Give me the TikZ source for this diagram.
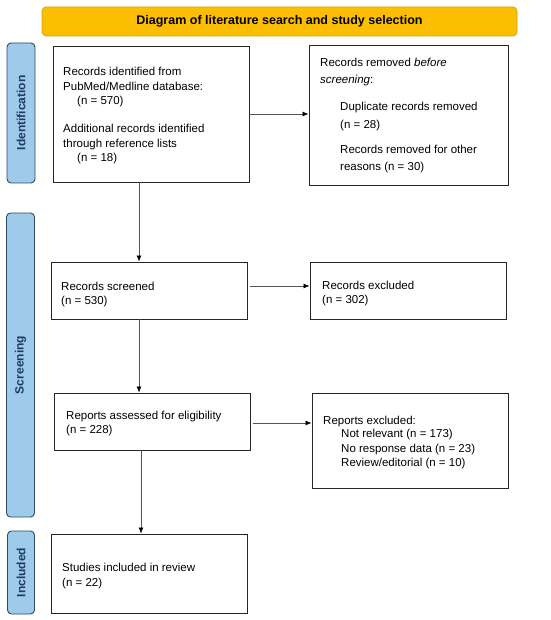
\documentclass[tikz,border=0pt]{standalone}
\usepackage{fontspec}
\setmainfont{Liberation Sans}
\usetikzlibrary{arrows.meta}
\definecolor{titlefill}{HTML}{FBBE00}
\definecolor{titledraw}{HTML}{D9A200}
\definecolor{sidefill}{HTML}{9FCBEB}
\definecolor{sidedraw}{HTML}{2E4A68}
\definecolor{sidetext}{HTML}{1E3A66}
\definecolor{linegray}{HTML}{555555}
\begin{document}
\begin{tikzpicture}[x=1pt,y=-1pt,
  box/.style={draw=black!85, line width=0.9pt, fill=white, inner sep=0pt},
  side/.style={draw=sidedraw, line width=0.9pt, fill=sidefill, rounded corners=4pt, inner sep=0pt},
  sidelabel/.style={rotate=90, font=\fontsize{12}{14}\selectfont\bfseries, text=sidetext},
  txt/.style={anchor=base west, inner sep=0pt, font=\fontsize{11.5}{14}\selectfont},
  arr/.style={draw=linegray, line width=0.7pt, -{Latex[length=6pt,width=5pt,color=black]}}
]
\useasboundingbox (0,0) rectangle (550,620);
\fill[white] (0,0) rectangle (550,620);

% title
\node[draw=titledraw, fill=titlefill, line width=0.7pt, rounded corners=4pt,
  minimum width=475pt, minimum height=29pt, inner sep=0pt,
  font=\fontsize{12.5}{14}\selectfont\bfseries] (title) at (279.5,21.5)
  {Diagram of literature search and study selection};

% side labels
\node[side, minimum width=28pt, minimum height=140pt] (sid) at (21,113) {};
\node[sidelabel] (sidt) at (sid.center) {Identification};
\node[side, minimum width=28pt, minimum height=304pt] (sscr) at (20.5,365) {};
\node[sidelabel] (sscrt) at (sscr.center) {Screening};
\node[side, minimum width=27pt, minimum height=83pt] (sinc) at (21,572.5) {};
\node[sidelabel] (sinct) at (sinc.center) {Included};

% boxes
\node[box, minimum width=196pt, minimum height=136pt] (b1) at (151,114) {};
\node[box, minimum width=199pt, minimum height=140pt] (b2) at (408.5,115) {};
\node[box, minimum width=196pt, minimum height=57pt] (b3) at (149,290.5) {};
\node[box, minimum width=196pt, minimum height=57pt] (b4) at (408,290.5) {};
\node[box, minimum width=196pt, minimum height=57pt] (b5) at (152,421.5) {};
\node[box, minimum width=196pt, minimum height=95pt] (b6) at (410,440.5) {};
\node[box, minimum width=196pt, minimum height=79pt] (b7) at (149,573.5) {};

% texts box1
\node[txt] (t11) at (63,76) {Records identified from};
\node[txt] (t12) at (63,90.3) {PubMed/Medline database:};
\node[txt] (t13) at (77,105) {(n = 570)};
\node[txt] (t14) at (63,133) {Additional records identified};
\node[txt] (t15) at (63,147.3) {through reference lists};
\node[txt] (t16) at (77,161.5) {(n = 18)};
% box2
\node[txt] (t21) at (320,67) {Records removed \textit{before}};
\node[txt] (t22) at (320,84) {\textit{screening}:};
\node[txt] (t23) at (340,111) {Duplicate records removed};
\node[txt] (t24) at (340,129) {(n = 28)};
\node[txt] (t25) at (340,154) {Records removed for other};
\node[txt] (t26) at (340,171) {reasons (n = 30)};
% box3
\node[txt] (t31) at (61,290) {Records screened};
\node[txt] (t32) at (61,304) {(n = 530)};
% box4
\node[txt] (t41) at (322,289) {Records excluded};
\node[txt] (t42) at (322,303) {(n = 302)};
% box5
\node[txt] (t51) at (66,419) {Reports assessed for eligibility};
\node[txt] (t52) at (66,433) {(n = 228)};
% box6
\node[txt] (t61) at (323,424) {Reports excluded:};
\node[txt] (t62) at (341,437.5) {Not relevant (n = 173)};
\node[txt] (t63) at (341,452) {No response data (n = 23)};
\node[txt] (t64) at (341,466) {Review/editorial (n = 10)};
% box7
\node[txt] (t71) at (62,571) {Studies included in review};
\node[txt] (t72) at (62,586) {(n = 22)};

% arrows
\draw[arr] (b1.south -| 139,0) -- (b3.north -| 139,0);
\draw[arr] (b3.south -| 139,0) -- (b5.north -| 139,0);
\draw[arr] (b5.south -| 141,0) -- (b7.north -| 141,0);
\draw[arr] (b1.east |- 0,114) -- (b2.west |- 0,114);
\draw[arr] (b3.east |- 0,286) ++(3,0) -- (b4.west |- 0,286);
\draw[arr] (b5.east |- 0,423) ++(3,0) -- (b6.west |- 0,423);
\end{tikzpicture}
\end{document}
